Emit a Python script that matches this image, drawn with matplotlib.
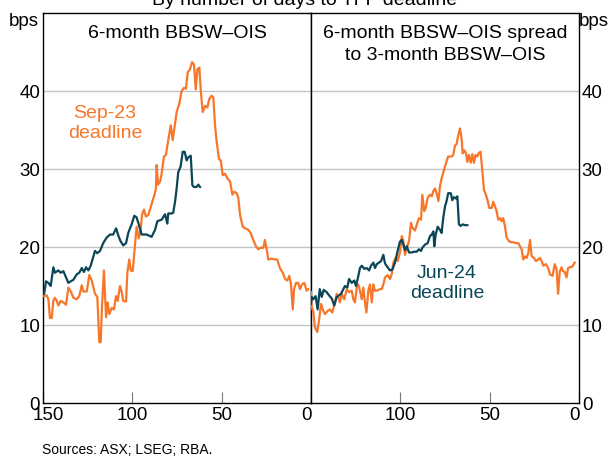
import matplotlib
matplotlib.use("Agg")
import matplotlib.pyplot as plt
import matplotlib.transforms as mtransforms

plt.rcParams['font.family'] = ['Liberation Sans', 'DejaVu Sans']

ORANGE = '#F7772A'
TEAL = '#0A4657'

# ---- Left panel: 6-month BBSW-OIS ----
left_sep23_days = [149.4, 147.9, 147.0, 146.1, 145.1, 144.2, 143.3, 142.3, 141.4, 140.1, 138.6, 137.1,
                   135.8, 134.5, 133.0, 131.1, 129.7, 128.3, 127.4, 125.5, 124.1, 122.7, 120.9, 119.6,
                   118.5, 117.7, 117.0, 115.9, 114.7, 113.8, 112.9, 111.5, 110.3, 109.1, 108.2, 106.9,
                   106.0, 105.1, 103.5, 102.8, 101.7, 100.9, 99.8, 98.5, 97.6, 96.4, 95.3, 94.6, 93.5,
                   92.4, 91.1, 89.7, 88.6, 87.7, 86.8, 86.4, 85.6, 84.5, 83.6, 82.3, 81.2, 79.9, 78.5,
                   77.4, 76.5, 75.2, 73.7, 72.4, 71.1, 70.0, 69.0, 67.7, 66.6, 65.5, 64.5, 63.6, 62.5,
                   61.6, 60.6, 59.9, 59.2, 58.0, 56.9, 55.6, 54.7, 53.7, 52.8, 51.5, 50.5, 49.4, 48.1,
                   46.8, 45.3, 44.0, 42.9, 41.6, 40.7, 39.7, 38.2, 36.9, 35.1, 33.8, 32.3, 30.8, 29.5,
                   28.2, 26.7, 25.8, 24.8, 23.9, 22.0, 20.1, 18.9, 17.4, 15.8, 14.5, 13.3, 12.1, 11.2,
                   10.2, 9.5, 8.4, 7.1, 6.2, 5.0, 3.8, 2.4, 1.5]
left_sep23_bps = [13.7, 13.8, 13.3, 10.9, 10.9, 13.1, 13.5, 13.1, 12.5, 13.1, 12.9, 12.6,
                  14.8, 14.3, 13.5, 13.3, 13.7, 15.1, 14.3, 14.3, 16.4, 15.7, 14.0, 13.6,
                  7.8, 7.8, 12.3, 17.0, 11.0, 12.9, 11.4, 12.2, 12.0, 13.7, 13.1, 15.0,
                  14.3, 13.1, 13.0, 16.7, 18.4, 17.0, 16.9, 20.3, 22.6, 21.1, 22.2, 24.1, 24.8,
                  23.9, 24.1, 25.1, 26.0, 26.6, 27.5, 30.5, 28.0, 28.4, 29.4, 31.6, 31.8, 33.7, 35.6,
                  33.7, 35.2, 37.3, 38.4, 40.0, 40.4, 40.3, 42.4, 42.8, 43.7, 43.4, 40.2, 42.8, 43.0,
                  39.8, 37.3, 37.7, 38.1, 37.9, 39.0, 39.4, 39.2, 35.6, 33.5, 31.3, 31.1, 29.2, 29.4,
                  28.8, 28.4, 26.7, 27.1, 26.9, 26.3, 24.1, 22.6, 22.4, 22.2, 21.8, 20.9, 20.1, 19.7,
                  19.9, 19.9, 20.9, 19.7, 18.4, 18.5, 18.4, 18.4, 17.3, 16.7, 15.9, 15.7, 16.3, 15.2,
                  12.0, 14.6, 15.4, 15.4, 14.6, 15.2, 15.4, 14.4, 14.6]

left_jun24_days = [149.4, 148.3, 147.0, 145.7, 144.2, 143.3, 141.4, 140.1, 138.6, 137.1, 135.8, 134.5,
                   133.0, 131.1, 129.7, 128.3, 127.1, 125.9, 124.6, 123.3, 121.8, 120.9, 119.6, 118.1,
                   116.3, 114.4, 112.5, 110.7, 109.1, 107.9, 106.5, 105.1, 103.5, 102.3, 100.4, 98.9,
                   97.6, 96.4, 94.8, 92.0, 89.2, 87.3, 86.0, 84.9, 83.6, 81.7, 80.4, 79.9, 78.0, 77.1,
                   76.1, 75.2, 74.3, 73.0, 71.8, 70.7, 69.6, 68.7, 67.3, 66.4, 65.5, 64.0, 63.1, 62.1]
left_jun24_bps = [14.0, 15.6, 15.4, 15.0, 17.4, 16.7, 17.0, 16.7, 16.9, 16.1, 15.4, 15.6,
                  15.8, 16.5, 16.7, 17.3, 16.8, 17.4, 17.0, 17.6, 18.8, 19.5, 19.2, 19.5,
                  20.5, 21.2, 21.6, 21.6, 22.4, 21.5, 20.7, 20.2, 20.5, 21.8, 22.9, 24.0,
                  23.8, 22.9, 21.6, 21.6, 21.3, 22.2, 23.3, 23.4, 23.5, 24.2, 23.0, 24.3, 24.3, 24.4,
                  25.8, 27.5, 29.6, 30.3, 32.2, 32.2, 31.1, 31.5, 31.7, 27.9, 27.7, 27.7, 28.0, 27.7]

# ---- Right panel: 6-month BBSW-OIS spread to 3-month BBSW-OIS ----
right_sep23_days = [150.0, 149.6, 148.7, 147.8, 146.5, 145.5, 144.4, 143.1, 142.2, 140.7, 139.4, 138.1,
                    136.6, 135.6, 134.7, 133.8, 132.8, 131.4, 130.0, 128.7, 127.2, 126.3, 125.4, 124.4,
                    123.5, 122.6, 121.6, 120.7, 119.8, 119.0, 117.9, 117.0, 116.0, 115.1, 114.2, 112.9,
                    111.6, 110.4, 109.5, 108.6, 107.1, 105.8, 104.8, 103.9, 102.6, 101.5, 100.2, 99.2,
                    98.3, 97.4, 96.3, 95.1, 94.0, 93.3, 91.8, 90.5, 89.6, 88.4, 87.7, 86.6, 85.8, 84.7,
                    83.4, 82.4, 81.5, 80.6, 79.6, 78.7, 77.8, 76.9, 76.0, 75.0, 74.1, 73.2, 71.3, 70.4,
                    69.4, 68.5, 67.6, 66.6, 65.7, 65.1, 64.2, 63.2, 62.5, 61.6, 60.6, 59.7, 58.8, 57.9,
                    57.0, 55.9, 55.1, 54.0, 53.2, 52.1, 51.3, 50.2, 48.9, 48.0, 47.0, 46.1, 45.2, 44.2,
                    43.3, 42.4, 41.4, 40.5, 39.0, 37.7, 36.4, 35.3, 34.0, 33.0, 32.1, 31.2, 30.2, 29.3,
                    28.4, 27.4, 26.5, 25.2, 24.1, 22.8, 21.9, 20.9, 20.0, 18.5, 17.2, 16.3, 14.8, 13.6,
                    12.6, 11.7, 10.8, 9.8, 8.9, 8.0, 7.0, 6.1, 5.2, 3.7, 2.4]
right_sep23_bps = [14.2, 12.3, 11.7, 9.7, 9.1, 10.6, 12.7, 11.8, 11.4, 11.8, 12.0, 11.6,
                   12.9, 14.0, 13.6, 12.9, 14.0, 13.3, 14.6, 14.2, 14.4, 13.3, 12.9, 14.8,
                   15.2, 14.4, 13.3, 14.8, 12.9, 11.6, 14.4, 15.2, 12.9, 15.2, 14.4, 14.4,
                   14.6, 14.6, 15.2, 16.1, 16.4, 15.9, 16.5, 18.0, 18.6, 18.2, 19.3, 21.4,
                   20.8, 19.0, 19.9, 20.8, 23.1, 22.5, 22.1, 23.1, 23.7, 23.5, 26.7, 24.6, 25.0, 26.3,
                   26.7, 26.5, 27.2, 27.5, 26.8, 25.9, 27.8, 28.8, 29.5, 30.3, 31.0, 31.6, 31.6, 31.8,
                   33.0, 33.2, 34.3, 35.2, 33.9, 32.0, 32.4, 32.0, 30.9, 31.8, 30.8, 31.9, 30.8, 31.8,
                   31.6, 32.1, 32.2, 29.5, 27.3, 26.7, 26.1, 25.0, 25.0, 25.8, 25.2, 24.6, 23.5, 23.7,
                   23.3, 23.7, 22.6, 21.2, 20.7, 20.6, 20.6, 20.5, 20.5, 20.1, 19.7, 18.4, 18.8, 18.6,
                   19.2, 20.9, 18.8, 18.6, 18.2, 18.4, 18.6, 18.2, 17.6, 17.8, 17.3, 16.5, 16.3, 17.8,
                   17.2, 14.0, 16.8, 17.4, 16.9, 16.8, 16.1, 17.3, 17.4, 17.5, 18.0]

right_jun24_days = [150.0, 149.6, 148.7, 147.4, 146.3, 145.1, 144.0, 142.9, 141.2, 139.9, 138.4, 137.0,
                    135.6, 134.3, 133.2, 131.9, 131.0, 129.7, 128.7, 127.2, 125.8, 124.8, 123.5, 122.6,
                    121.6, 120.2, 118.8, 117.5, 116.4, 115.1, 114.2, 113.2, 111.9, 110.8, 109.5, 108.6,
                    107.1, 105.8, 104.5, 103.0, 101.5, 100.2, 99.2, 98.3, 97.4, 96.4, 95.1, 93.6, 92.2,
                    90.8, 89.6, 88.4, 87.7, 86.2, 84.7, 83.4, 82.4, 81.5, 81.0, 80.2, 79.1, 77.8, 76.9,
                    76.0, 75.0, 74.1, 73.2, 71.8, 70.9, 70.0, 68.8, 68.1, 67.2, 66.2, 65.1, 63.8, 62.5]
right_jun24_bps = [12.7, 13.6, 13.3, 13.7, 12.0, 14.6, 13.6, 14.5, 14.2, 13.8, 13.4, 12.5,
                   13.6, 13.8, 14.0, 14.6, 15.0, 14.8, 15.9, 15.4, 15.7, 15.0, 16.3, 17.3,
                   17.6, 17.2, 17.3, 17.0, 17.6, 18.0, 17.3, 17.8, 18.0, 18.2, 19.0, 17.9,
                   17.4, 17.0, 17.1, 18.0, 19.5, 20.7, 20.9, 20.3, 19.6, 20.1, 19.3, 19.3, 19.4,
                   19.4, 19.7, 19.5, 19.9, 20.3, 20.5, 21.4, 21.6, 22.0, 20.1, 21.6, 22.6, 22.2, 21.8,
                   23.7, 25.2, 25.9, 26.9, 26.9, 26.0, 26.4, 26.2, 26.5, 22.9, 22.7, 22.9, 22.8, 22.8]

x_ticks = [150, 100, 50, 0]
y_ticks = [0, 10, 20, 30, 40]
left_title = "6-month BBSW–OIS"
right_title = "6-month BBSW–OIS spread\nto 3-month BBSW–OIS"

FS_TICK = 13.5
FS = 14

fig = plt.figure(figsize=(6.1, 4.59), dpi=100)
W, H = 610, 459
def rect(l, t, r, b):
    return [l / W, 1 - b / H, (r - l) / W, (b - t) / H]

ax1 = fig.add_axes(rect(43, 13, 311, 403))
ax2 = fig.add_axes(rect(311, 13, 579, 403))

for ax in (ax1, ax2):
    ax.set_xlim(150, 0)
    ax.set_ylim(0, 50)
    ax.set_yticks(y_ticks)
    for yv in y_ticks[1:]:
        ax.axhline(yv, color='#C4C4C4', lw=1.0, zorder=0)
    ax.set_xticks(x_ticks)
    ax.tick_params(axis='x', direction='in', length=8, width=0.8, color='#777777',
                   labelsize=FS_TICK, pad=3)
    ax.tick_params(axis='y', length=0, labelsize=FS_TICK, pad=2)
    for sp in ax.spines.values():
        sp.set_color('black')
        sp.set_linewidth(1.0)

ax1.set_xticklabels([str(v) for v in x_ticks])
ax2.set_xticklabels([''] + [str(v) for v in x_ticks[1:]])
ax2.yaxis.tick_right()
ax2.tick_params(axis='y', length=0, labelsize=FS_TICK, pad=2)

# nudge edge tick labels inward like the original
def nudge(label, dx_px):
    label.set_transform(label.get_transform() +
                        mtransforms.ScaledTranslation(dx_px / 100, 0, fig.dpi_scale_trans))
lbl1 = ax1.get_xticklabels()
nudge(lbl1[0], 5)
nudge(lbl1[-1], -4)
lbl2 = ax2.get_xticklabels()
nudge(lbl2[-1], -4)

lw = 1.6
ax1.plot(left_sep23_days, left_sep23_bps, color=ORANGE, lw=lw, zorder=3)
ax1.plot(left_jun24_days, left_jun24_bps, color=TEAL, lw=lw, zorder=4)
ax2.plot(right_sep23_days, right_sep23_bps, color=ORANGE, lw=lw, zorder=3)
ax2.plot(right_jun24_days, right_jun24_bps, color=TEAL, lw=lw, zorder=4)

ax1.text(0.5, 0.9705, left_title, transform=ax1.transAxes, ha='center', va='top', fontsize=FS)
ax2.text(0.5, 0.9705, right_title, transform=ax2.transAxes, ha='center', va='top', fontsize=FS,
         linespacing=1.42)

ax1.text(115.3, 35.8, "Sep-23\ndeadline", color=ORANGE, ha='center', va='center', fontsize=FS,
         linespacing=1.2)
ax2.text(73.9, 15.3, "Jun-24\ndeadline", color=TEAL, ha='center', va='center', fontsize=FS,
         linespacing=1.2)

fig.text(9 / W, 1 - 21 / H, "bps", ha='left', va='center', fontsize=FS_TICK)
fig.text(609 / W, 1 - 21 / H, "bps", ha='right', va='center', fontsize=FS_TICK)
fig.text(0.5, 1 - 5 / H, "By number of days to TFF deadline", ha='center', va='baseline',
         fontsize=FS)
fig.text(42 / W, 1 - 450 / H, "Sources: ASX; LSEG; RBA.", ha='left', va='center', fontsize=10)

fig.savefig("out.png", dpi=100)
